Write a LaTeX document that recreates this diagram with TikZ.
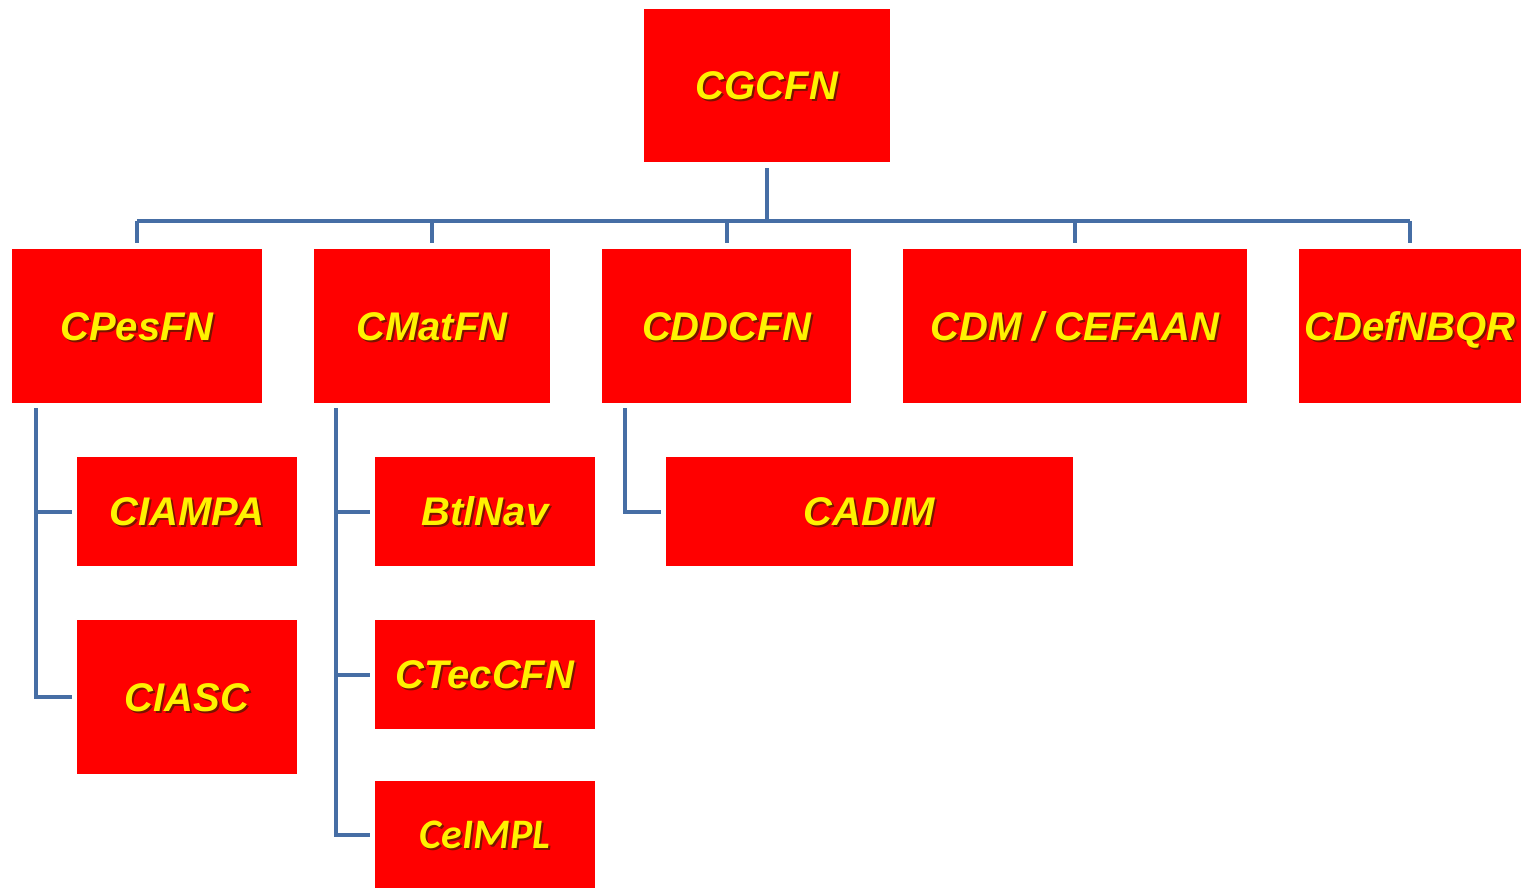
\documentclass[tikz,border=0pt]{standalone}
\usepackage{fontspec}
\newfontfamily\arialfont{Liberation Sans}
\newfontfamily\califont{Carlito}
\definecolor{linkblue}{RGB}{70,110,165}
\definecolor{shadowred}{RGB}{120,20,0}
\newcommand{\shtext}[1]{\makebox[0pt][l]{\hspace{1pt}\raisebox{-1pt}{\textcolor{shadowred}{#1}}}#1}
\tikzset{
  orgbox/.style={fill=red, text=yellow, inner sep=0pt, text height=14.3pt, text depth=0pt, font=\arialfont\bfseries\itshape\fontsize{20}{24}\selectfont},
  bigbox/.style={orgbox, minimum height=77pt},
  smallbox/.style={orgbox, minimum width=110pt, minimum height=54.5pt},
  link/.style={draw=linkblue, line width=2pt}
}

\begin{document}
\begin{tikzpicture}[x=0.5pt, y=-0.5pt]
\useasboundingbox (0,0) rectangle (1528,888);

\node [bigbox, minimum width=123pt, minimum height=76.5pt] (cgcfn) at (767,85.5) {\shtext{CGCFN}};
\node [bigbox, minimum width=125pt] (cpes) at (137,326) {\shtext{CPesFN}};
\node [bigbox, minimum width=118pt] (cmat) at (432,326) {\shtext{CMatFN}};
\node [bigbox, minimum width=124.5pt] (cddc) at (726.5,326) {\shtext{CDDCFN}};
\node [bigbox, minimum width=172pt] (cdm) at (1075,326) {\shtext{CDM / CEFAAN}};
\node [bigbox, minimum width=111pt] (cdef) at (1410,326) {\shtext{CDefNBQR}};

\node [smallbox] (ciampa) at (187,511.5) {\shtext{CIAMPA}};
\node [smallbox, minimum height=77pt] (ciasc) at (187,697) {\shtext{CIASC}};
\node [smallbox] (btlnav) at (485,511.5) {\shtext{BtlNav}};
\node [smallbox] (ctec) at (485,674.5) {\shtext{CTecCFN}};
\node [smallbox, minimum height=53.5pt, text height=13.5pt, font=\califont\bfseries\itshape\fontsize{21}{25}\selectfont] (ceimpl) at (485,834.5) {\shtext{CeIMPL}};
\node [smallbox, minimum width=203.5pt] (cadim) at (869.5,511.5) {\shtext{CADIM}};

\coordinate (bus) at (767,221);
\coordinate (pesline) at (36,408);
\coordinate (matline) at (336,408);
\coordinate (ddcline) at (625,408);

\draw [link] ([yshift=-3pt]cgcfn.south) -- (bus);
\draw [link] (cpes.north |- bus) -- (cdef.north |- bus);
\foreach \n in {cpes,cmat,cddc,cdm,cdef}
  \draw [link] (\n.north |- bus) -- ([yshift=3pt]\n.north);

\draw [link] (pesline) |- ([xshift=-2.5pt]ciampa.west);
\draw [link] (pesline) |- ([xshift=-2.5pt]ciasc.west);
\draw [link] (matline) |- ([xshift=-2.5pt]btlnav.west);
\draw [link] (matline) |- ([xshift=-2.5pt]ctec.west);
\draw [link] (matline) |- ([xshift=-2.5pt]ceimpl.west);
\draw [link] (ddcline) |- ([xshift=-2.5pt]cadim.west);
\end{tikzpicture}
\end{document}
